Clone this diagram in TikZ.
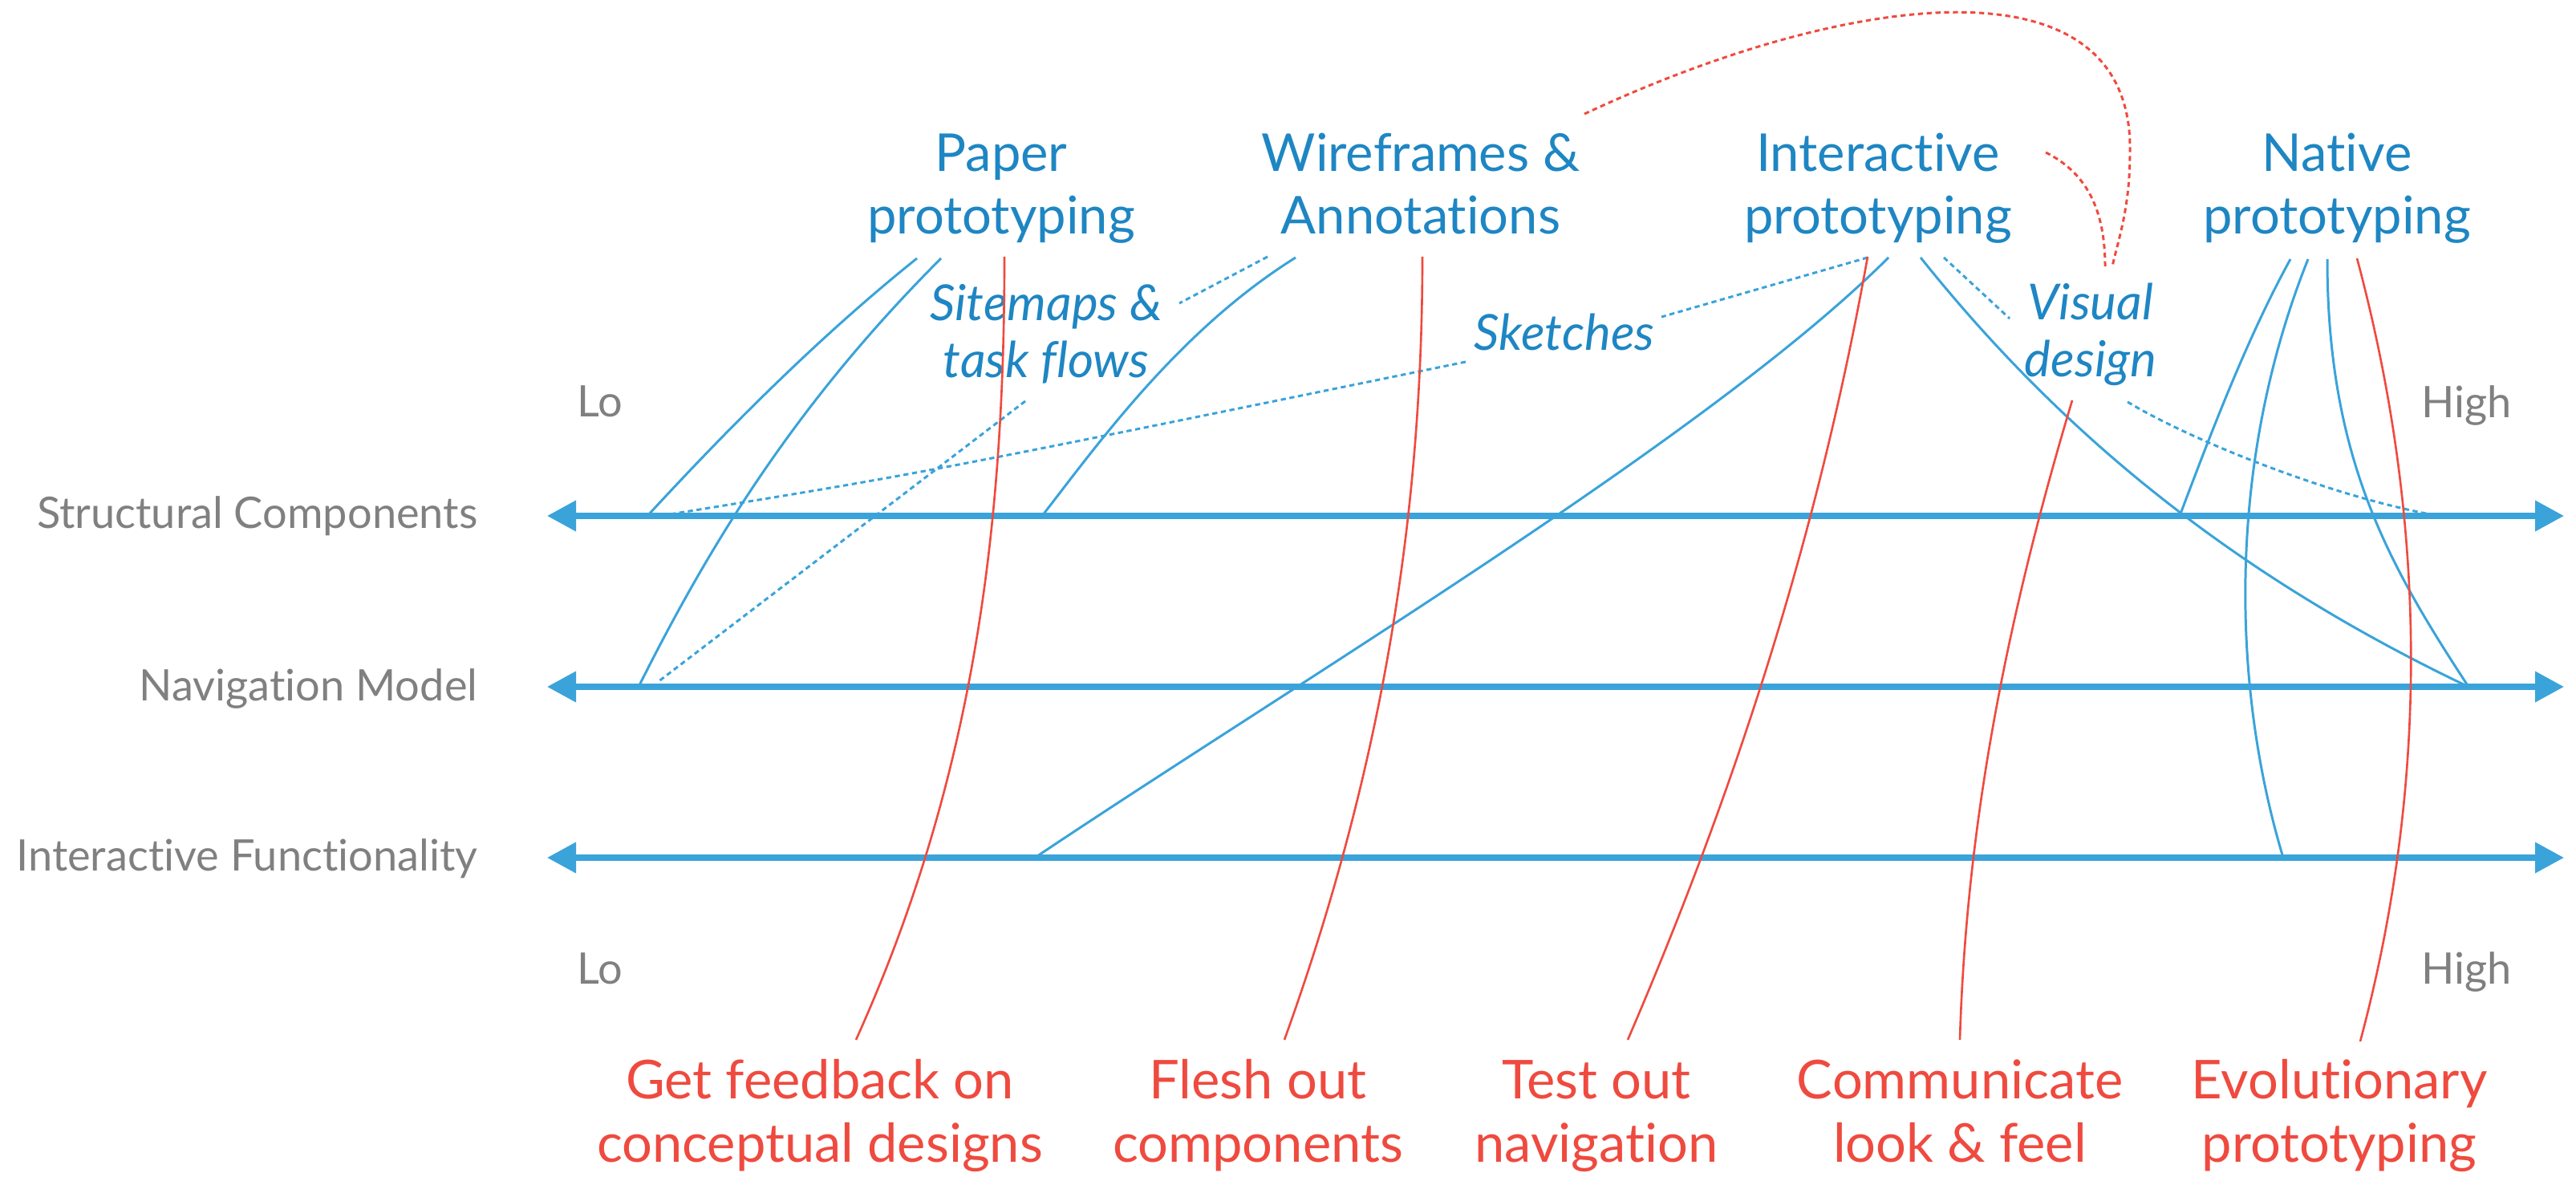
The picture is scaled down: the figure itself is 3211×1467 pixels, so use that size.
\documentclass[tikz,border=0pt]{standalone}
\usepackage{fontspec}
\setmainfont{Lato}[Ligatures=NoCommon]
\usetikzlibrary{arrows.meta}
\definecolor{titleblue}{RGB}{30,134,195}
\definecolor{lineblue}{RGB}{58,163,218}
\definecolor{accentred}{RGB}{239,74,63}
\definecolor{labelgrey}{RGB}{128,128,128}

\begin{document}
\begin{tikzpicture}[x=0.01cm, y=-0.01cm,
    method/.style={inner sep=0pt, align=center, text=titleblue, font=\fontsize{18.5}{22.2}\selectfont, anchor=base},
    goal/.style={inner sep=0pt, align=center, text=accentred, font=\fontsize{19}{22.2}\selectfont, anchor=base},
    artefact/.style={inner sep=0pt, align=center, text=titleblue, font=\fontsize{17.6}{20.2}\selectfont\itshape, anchor=base},
    rowlabel/.style={inner sep=0pt, text=labelgrey, font=\fontsize{15.4}{18}\selectfont, anchor=base east},
    level/.style={inner sep=0pt, text=labelgrey, font=\fontsize{15.4}{18}\selectfont},
    axis/.style={{Triangle[length=0.36cm, width=0.37cm]}-{Triangle[length=0.36cm, width=0.37cm]}, line width=2pt, draw=lineblue},
    link/.style={line width=0.85pt, draw=lineblue},
    hint/.style={line width=0.85pt, draw=lineblue, dash pattern=on 1.8pt off 1.3pt},
    aim/.style={line width=0.75pt, draw=accentred},
    aimhint/.style={line width=0.85pt, draw=accentred, dash pattern=on 1.8pt off 1.3pt}
]
\useasboundingbox (0,0) rectangle (3211,1467);

\node[method] (paper) at (1248,292) {Paper\\prototyping};
\node[method] (wire) at (1771,292) {Wireframes \&\\Annotations};
\node[method] (inter) at (2341,292) {Interactive\\prototyping};
\node[method] (native) at (2913,292) {Native\\prototyping};

\node[artefact] (sitemaps) at (1304,471) {Sitemaps \&\\task flows};
\node[artefact] (sketches) at (1950,437) {Sketches};
\node[artefact] (visual) at (2606,470) {Visual\\design};

\node[level, anchor=base west] (lotop) at (719,520) {Lo};
\node[level, anchor=base east] (hightop) at (3131,521) {High};
\node[level, anchor=base west] (lobot) at (719,1226) {Lo};
\node[level, anchor=base east] (highbot) at (3131,1226) {High};

\node[rowlabel] (struct) at (596,659) {Structural Components};
\node[rowlabel] (navmodel) at (596,873) {Navigation Model};
\node[rowlabel] (func) at (596,1085) {Interactive Functionality};

\node[goal] (feedback) at (1022,1448) {Get feedback on\\conceptual designs};
\node[goal] (flesh) at (1568,1448) {Flesh out\\components};
\node[goal] (testnav) at (1990,1448) {Test out\\navigation};
\node[goal] (lookfeel) at (2443,1448) {Communicate\\look \& feel};
\node[goal] (evolve) at (2916,1448) {Evolutionary\\prototyping};

\coordinate (sL) at (682,643);
\coordinate (sR) at (3196,643);
\coordinate (nL) at (682,856);
\coordinate (nR) at (3196,856);
\coordinate (fL) at (682,1069);
\coordinate (fR) at (3196,1069);

\coordinate (paper-a) at (1143,322);
\coordinate (paper-b) at (1173,322);
\coordinate (paper-r) at (1252,320);
\coordinate (wire-a) at (1615,321);
\coordinate (wire-r) at (1773,320);
\coordinate (wire-d) at (1580,320);
\coordinate (wire-rd) at (1975,142);
\coordinate (inter-a) at (2354,321);
\coordinate (inter-b) at (2394,321);
\coordinate (inter-r) at (2328,320);
\coordinate (inter-d) at (2328,321);
\coordinate (inter-e) at (2423,321);
\coordinate (inter-rd) at (2550,190);
\coordinate (native-a) at (2855,323);
\coordinate (native-b) at (2877,323);
\coordinate (native-c) at (2901,323);
\coordinate (native-r) at (2938,322);

\coordinate (sitemaps-t) at (1470,378);
\coordinate (sitemaps-b) at (1278,500);
\coordinate (sketches-w) at (1827,451);
\coordinate (sketches-e) at (2071,395);
\coordinate (visual-t) at (2505,397);
\coordinate (visual-b) at (2652,501);
\coordinate (visual-r) at (2583,499);
\coordinate (visual-n) at (2633,332);
\coordinate (visual-m) at (2624,332);

\coordinate (s-lo) at (807,643);
\coordinate (s-wire) at (1299,643);
\coordinate (s-native) at (2717,643);
\coordinate (s-dot) at (835,641);
\coordinate (s-hi) at (3029,641);
\coordinate (n-lo) at (796,856);
\coordinate (n-dot) at (820,850);
\coordinate (n-hi) at (3077,856);
\coordinate (f-inter) at (1290,1069);
\coordinate (f-native) at (2846,1069);

\coordinate (feedback-t) at (1067,1296);
\coordinate (flesh-t) at (1601,1296);
\coordinate (testnav-t) at (2029,1296);
\coordinate (lookfeel-t) at (2443,1296);
\coordinate (evolve-t) at (2942,1298);

\draw[axis] (sL) -- (sR);
\draw[axis] (nL) -- (nR);
\draw[axis] (fL) -- (fR);

\draw[link] (paper-a) .. controls (1018,422) and (902,540) .. (s-lo);
\draw[link] (paper-b) .. controls (993,502) and (886,676) .. (n-lo);
\draw[link] (wire-a) .. controls (1471,411) and (1371,550) .. (s-wire);
\draw[link] (inter-a) .. controls (2134,541) and (1620,848) .. (f-inter);
\draw[link] (inter-b) .. controls (2554,521) and (2762,706) .. (n-hi);
\draw[link] (native-a) .. controls (2800,423) and (2754,545) .. (s-native);
\draw[link] (native-b) .. controls (2777,573) and (2780,850) .. (f-native);
\draw[link] (native-c) .. controls (2901,573) and (2979,706) .. (n-hi);

\draw[hint] (wire-d) -- (sitemaps-t);
\draw[hint] (sitemaps-b) -- (n-dot);
\draw[hint] (sketches-w) .. controls (1150,590) .. (s-dot);
\draw[hint] (inter-d) -- (sketches-e);
\draw[hint] (inter-e) -- (visual-t);
\draw[hint] (visual-b) .. controls (2732,549) and (2899,616) .. (s-hi);

\draw[aim] (paper-r) .. controls (1252,650) and (1216,966) .. (feedback-t);
\draw[aim] (wire-r) .. controls (1773,650) and (1720,966) .. (flesh-t);
\draw[aim] (inter-r) .. controls (2269,650) and (2171,966) .. (testnav-t);
\draw[aim] (visual-r) .. controls (2502,769) and (2451,1026) .. (lookfeel-t);
\draw[aim] (native-r) .. controls (3025,647) and (3029,973) .. (evolve-t);

\draw[aimhint] (wire-rd) .. controls (2300,-10) and (2660,-60) .. (2655,190) .. controls (2655,260) and (2640,300) .. (visual-n);
\draw[aimhint] (inter-rd) .. controls (2600,215) and (2624,260) .. (visual-m);
\end{tikzpicture}
\end{document}
